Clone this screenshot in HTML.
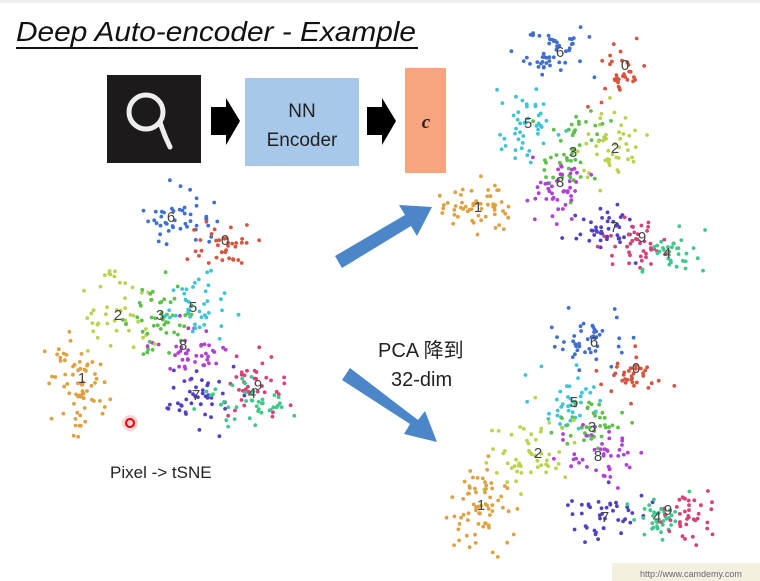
<!DOCTYPE html>
<html><head><meta charset="utf-8"><style>
html,body{margin:0;padding:0;background:#fff;}
body{width:760px;height:581px;overflow:hidden;position:relative;font-family:"Liberation Sans","Noto Sans CJK SC",sans-serif;}
</style></head><body>
<svg id="s" width="760" height="581" viewBox="0 0 760 581" xmlns="http://www.w3.org/2000/svg" style="position:absolute;left:0;top:0">
<rect x="0" y="0" width="760" height="3" fill="#eef0ee"/>
<text x="16" y="41" font-family="Liberation Sans, sans-serif" font-style="italic" font-size="28" fill="#111" textLength="400" lengthAdjust="spacingAndGlyphs">Deep Auto-encoder - Example</text>
<line x1="16" y1="48" x2="418" y2="48" stroke="#111" stroke-width="2"/>
<rect x="107" y="75" width="94" height="88" fill="#1c1a1a"/>
<circle cx="146" cy="112" r="17" fill="none" stroke="#eee" stroke-width="5"/>
<path d="M160 122 Q164 135 170 147" fill="none" stroke="#eee" stroke-width="5" stroke-linecap="round"/>
<polygon points="211,107 226,107 226,98 240,121 226,145 226,135 211,135" fill="#000"/>
<rect x="245" y="78" width="114" height="88" fill="#a8c8ea"/>
<text x="302" y="117" text-anchor="middle" font-size="19" fill="#222">NN</text>
<text x="302" y="146" text-anchor="middle" font-size="19" fill="#222">Encoder</text>
<polygon points="367,107 382,107 382,98 396,121 382,145 382,135 367,135" fill="#000"/>
<rect x="405" y="68" width="41" height="105" fill="#f6a57e"/>
<text x="426" y="128" text-anchor="middle" font-family="Liberation Serif, serif" font-style="italic" font-weight="bold" font-size="19" fill="#222">c</text>
<polygon points="335,256 405,215 399,205 432,207 417,236 411,226 342,268" fill="#4a86c8"/>
<polygon points="342,380 410,424 404,434 437,442 425,411 418,420 350,368" fill="#4a86c8"/>
<text x="378" y="357" font-size="20" fill="#222">PCA 降到</text>
<text x="391" y="386" font-size="20" fill="#222">32-dim</text>
<text x="110" y="478" font-size="17" fill="#222">Pixel -&gt; tSNE</text>
<g id="dots"></g>
<g id="labels" font-size="15" fill="#444"></g>
<circle cx="130" cy="423" r="8" fill="#f55" opacity="0.25"/>
<circle cx="130" cy="423" r="4" fill="none" stroke="#e00" stroke-width="2"/>
<rect x="612" y="563" width="148" height="18" fill="#f4f0e0"/>
<text x="640" y="577" font-size="9" fill="#667">http://www.camdemy.com</text>
</svg>
<script>
var C={0:"#d9533f",1:"#e0a040",2:"#b8d44a",3:"#5cc04a",4:"#3ec98a",5:"#3ec4d8",6:"#3f6fd0",7:"#5040c8",8:"#b040d8",9:"#d8407a"};
var seed=7;function r(){seed=(seed*16807)%2147483647;return seed/2147483647;}
function g(){return (r()+r()+r()+r()-2)/2;}
var P=[
[[6,175,218,25,22,40],[0,225,240,25,22,35],[2,118,310,28,30,40],[3,160,315,28,30,45],[5,198,305,25,25,35],[8,188,350,28,22,40],[1,80,385,25,40,65],[7,200,400,30,22,40],[9,255,385,22,28,35],[4,250,405,35,22,40]],
[[6,550,52,28,20,45],[0,620,72,15,20,25],[5,528,125,25,32,45],[3,572,150,22,30,40],[2,612,148,25,35,45],[8,558,185,22,25,40],[1,478,208,30,22,55],[7,605,230,28,20,40],[9,640,245,25,20,40],[4,670,255,25,18,30]],
[[6,590,340,32,20,40],[0,635,375,28,14,30],[5,568,400,25,22,35],[3,590,425,25,22,35],[2,535,455,35,35,50],[8,600,455,30,25,40],[1,480,505,28,38,65],[7,605,515,30,22,40],[4,655,520,25,20,35],[9,685,515,25,20,35]]];
var R=[[50,185,290,435],[440,35,720,290],[450,315,720,545]];
var L=[[[6,171,222],[0,225,245],[2,118,320],[3,160,320],[5,193,312],[8,183,350],[1,82,383],[7,196,400],[9,258,390],[4,252,398]],
[[6,560,57],[0,625,70],[5,528,128],[3,573,157],[2,615,153],[8,560,187],[1,478,212],[7,614,232],[9,642,242],[4,667,258]],
[[6,594,347],[0,636,373],[5,574,407],[3,592,432],[2,538,458],[8,598,461],[1,481,510],[7,605,522],[4,657,522],[9,668,515]]];
var h="";
function dot(x,y,c){h+='<circle cx="'+x.toFixed(1)+'" cy="'+y.toFixed(1)+'" r="1.9" fill="'+c+'"/>';}
P.forEach(function(p,k){p.forEach(function(c){for(var i=0;i<c[5];i++){dot(c[1]+g()*c[3]*2,c[2]+g()*c[4]*2,C[c[0]]);}});
 var b=R[k];for(var i=0;i<35;i++){var c=p[Math.floor(r()*p.length)];dot(c[1]+(r()-0.5)*90,c[2]+(r()-0.5)*70,C[c[0]]);}
});
document.getElementById("dots").innerHTML=h;
var t="";L.forEach(function(l){l.forEach(function(a){t+='<text x="'+a[1]+'" y="'+a[2]+'" text-anchor="middle">'+a[0]+'</text>';});});
document.getElementById("labels").innerHTML=t;
</script>
</body></html>
